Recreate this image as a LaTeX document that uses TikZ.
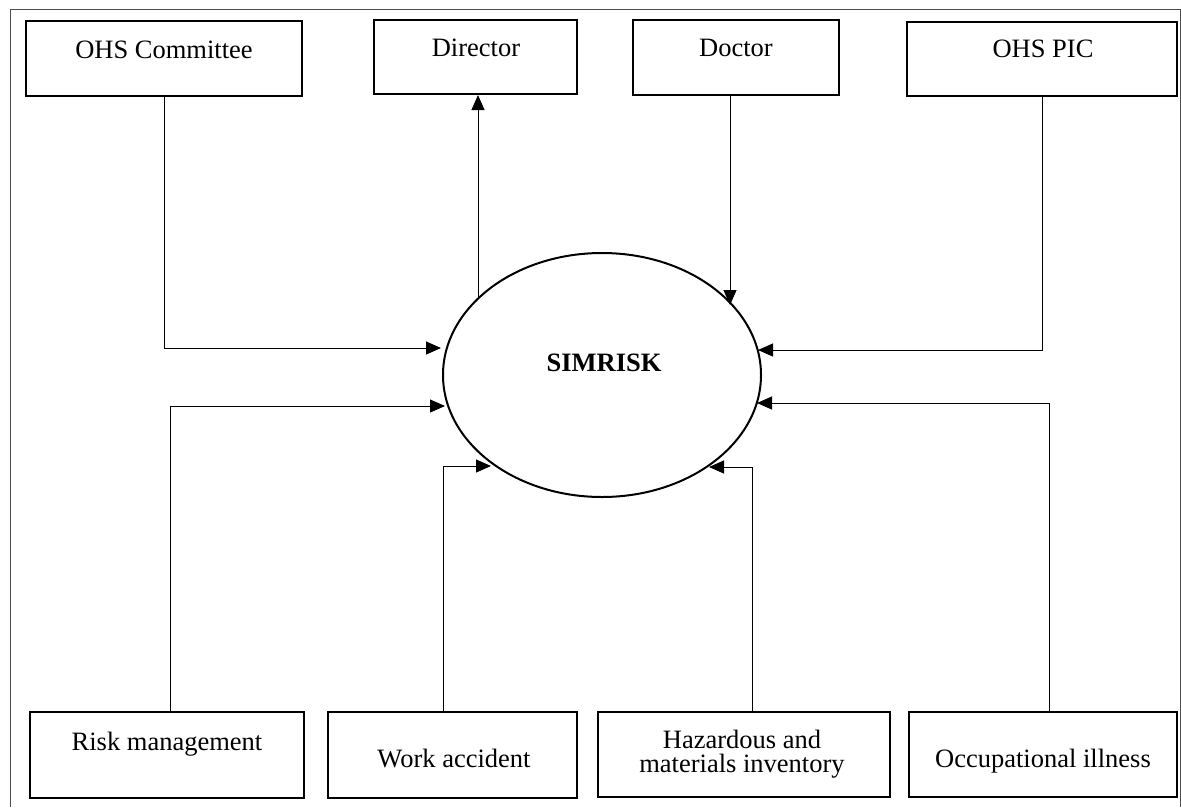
\documentclass[tikz,border=0pt]{standalone}
\usepackage{fontspec}
\setmainfont{Liberation Serif}
\usetikzlibrary{arrows.meta,shapes.geometric}
\begin{document}
\begin{tikzpicture}[x=1pt,y=-1pt,
  box/.style={draw, line width=2pt, inner sep=0pt},
  lbl/.style={anchor=base, inner sep=0pt, font=\fontsize{26.5}{24}\selectfont, align=center},
  conn/.style={draw=black, line width=1pt},
  arr/.style={conn, -{Triangle[length=15pt,width=13pt]}}]
\useasboundingbox (0,0) rectangle (1181,807);
\draw[line width=1pt, black!70] (10,807) -- (10,9) -- (1180,9) -- (1180,807);
% top boxes
\node[box, minimum width=276, minimum height=75] (ohsc) at (164,58.5) {};
\node[box, minimum width=203, minimum height=74] (dir) at (475.5,57) {};
\node[box, minimum width=206, minimum height=75] (doc) at (736,57.5) {};
\node[box, minimum width=270, minimum height=74] (pic) at (1042,59) {};
% bottom boxes
\node[box, minimum width=274, minimum height=86] (rm) at (167,755) {};
\node[box, minimum width=249, minimum height=86] (wa) at (452.5,755) {};
\node[box, minimum width=292, minimum height=85] (haz) at (744,754.5) {};
\node[box, minimum width=268, minimum height=85] (occ) at (1043,754.5) {};
% labels
\node[lbl] (tohsc) at (164,58) {OHS Committee};
\node[lbl] (tdir) at (476,56) {Director};
\node[lbl] (tdoc) at (736,56) {Doctor};
\node[lbl] (tpic) at (1043,57) {OHS PIC};
\node[lbl] (trm) at (167,750) {Risk management};
\node[lbl] (twa) at (454,767) {Work accident};
\node[lbl] (thaz) at (742,772) {Hazardous and\\materials inventory};
\node[lbl] (tocc) at (1043,767) {Occupational illness};
% centre
\node[draw, ellipse, line width=2pt, minimum width=318, minimum height=244, inner sep=0pt] (sim) at (602,375) {};
\node[lbl, font=\fontsize{26.5}{31}\selectfont\bfseries] (tsim) at (604,371) {SIMRISK};
% end points on the ellipse
\coordinate (tOC) at (441,348);
\coordinate (tRM) at (445,406);
\coordinate (tWA) at (491,466);
\coordinate (tHZ) at (709,467);
\coordinate (tOI) at (757,403);
\coordinate (tPIC) at (758,350);
\coordinate (tDoc) at (730,305);
\coordinate (sDir) at (478,298);
% connectors
\draw[arr] (ohsc.south) |- (tOC);
\draw[arr] ([xshift=3pt]rm.north) |- (tRM);
\draw[arr] ([xshift=-9.5pt]wa.north) |- (tWA);
\draw[arr] ([xshift=8pt]haz.north) |- (tHZ);
\draw[arr] ([xshift=6pt]occ.north) |- (tOI);
\draw[arr] (pic.south) |- (tPIC);
\draw[arr] ([xshift=-6pt]doc.south) -- (tDoc);
\draw[arr] (sDir) -- ([xshift=2.5pt]dir.south);
\end{tikzpicture}
\end{document}
